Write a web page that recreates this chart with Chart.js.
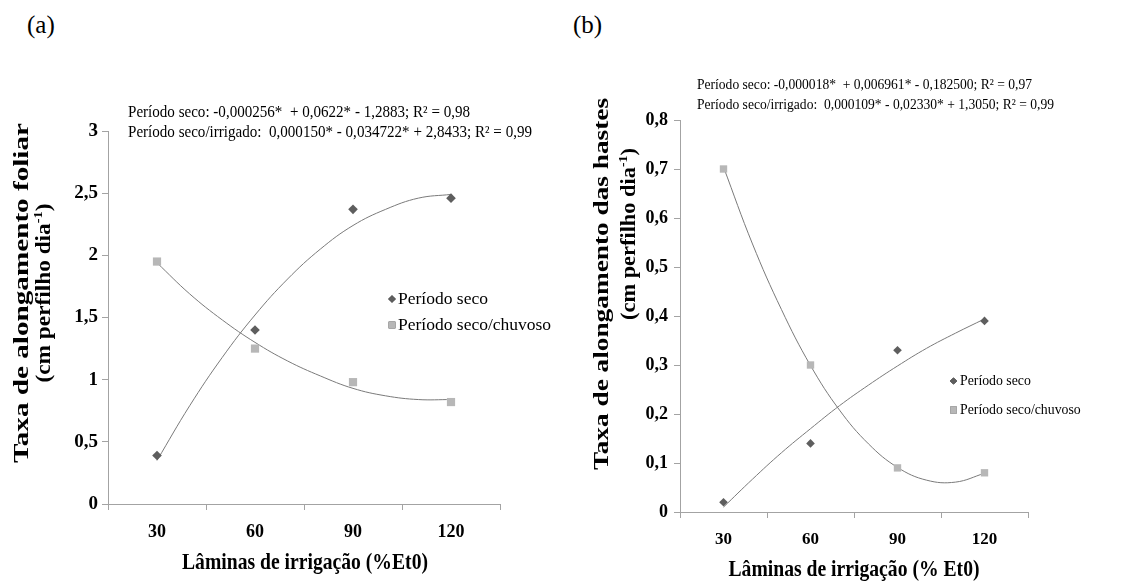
<!DOCTYPE html>
<html lang="pt">
<head>
<meta charset="utf-8">
<title>Taxas de alongamento foliar e das hastes</title>
<script src="https://cdn.jsdelivr.net/npm/chart.js@4.4.1/dist/chart.umd.min.js"></script>
<style>
  html, body { margin: 0; padding: 0; background: #fff; }
  body { width: 1137px; height: 582px; position: relative; overflow: hidden; }
  canvas { position: absolute; top: 0; }
  #chartA { left: 0; }
  #chartB { left: 568px; }
  .tag { position: absolute; top: 11px; font: 25px/1.15 'Liberation Serif', 'Times New Roman', serif; color: #000; }
</style>
</head>
<body>
<span class="tag" style="left:27px">(a)</span>
<span class="tag" style="left:573px">(b)</span>
<canvas id="chartA" width="568" height="582"></canvas>
<canvas id="chartB" width="569" height="582"></canvas>
<script>
// Lâminas de irrigação (% Et0)
const laminas = [30, 60, 90, 120];
// marcas do eixo x entre as lâminas
const xTickMarks = [15, 45, 75, 105, 135];

// (a) taxa de alongamento foliar (cm perfilho dia-1)
const foliarSeco = [0.39, 1.40, 2.37, 2.46];
const foliarChuvoso = [1.95, 1.25, 0.98, 0.82];
const foliarTicks = [0, 0.5, 1, 1.5, 2, 2.5, 3];

// (b) taxa de alongamento das hastes (cm perfilho dia-1)
const hastesSeco = [0.02, 0.14, 0.33, 0.39];
const hastesChuvoso = [0.70, 0.30, 0.09, 0.08];
const hastesTicks = [0, 0.1, 0.2, 0.3, 0.4, 0.5, 0.6, 0.7, 0.8];

// curvas de tendência (2º grau), lidas a cada 10 % Et0
const trendX = [30, 40, 50, 60, 70, 80, 90, 100, 110, 120];
const foliarSecoFit = [0.35, 0.79, 1.18, 1.52, 1.81, 2.05, 2.24, 2.37, 2.46, 2.49];
const foliarChuvosoFit = [1.94, 1.69, 1.48, 1.30, 1.15, 1.03, 0.93, 0.87, 0.84, 0.84];
const hastesSecoFit = [0.010, 0.067, 0.121, 0.170, 0.217, 0.259, 0.298, 0.334, 0.365, 0.394];
const hastesChuvosoFit = [0.704, 0.547, 0.413, 0.299, 0.208, 0.139, 0.091, 0.065, 0.061, 0.079];

const serif = "'Liberation Serif', 'Times New Roman', serif";
const axisGray = '#a3a3a3';
const darkGray = '#5e5e5e';
const lightGray = '#b7b7b7';

function points(xs, ys) { return xs.map((x, i) => ({ x: x, y: ys[i] })); }
function commaLabel(v) { return String(v).replace('.', ','); }

// text in pieces (superscripts), fitted to a given length, centred on (0,0)
function drawRich(ctx, parts, size, bold, len) {
  const w = bold ? 'bold ' : '';
  const fonts = parts.map(p => w + (p.sup ? size * 0.62 : size) + 'px ' + serif);
  let total = 0;
  const widths = parts.map((p, i) => { ctx.font = fonts[i]; const m = ctx.measureText(p.t).width; total += m; return m; });
  ctx.save();
  if (len) ctx.scale(len / total, 1);
  let x = -total / 2;
  parts.forEach((p, i) => {
    ctx.font = fonts[i];
    ctx.fillText(p.t, x, p.sup ? -size * 0.32 : 0);
    x += widths[i];
  });
  ctx.restore();
}

const panelText = {
  id: 'panelText',
  afterDraw(chart, args, o) {
    const ctx = chart.ctx;
    ctx.save();
    ctx.fillStyle = '#000';
    ctx.textBaseline = 'middle';
    ctx.textAlign = 'left';

    // regression equations
    o.equations.forEach(eq => {
      ctx.save();
      ctx.font = o.eqSize + 'px ' + serif;
      const m = ctx.measureText(eq.text).width;
      ctx.translate(eq.x, eq.y);
      ctx.scale(eq.width / m, 1);
      ctx.fillText(eq.text, 0, 0);
      ctx.restore();
    });

    // legend for the two observed series
    const lg = o.legend;
    chart.data.datasets.filter(d => !d.showLine).forEach((d, i) => {
      Chart.helpers.drawPoint(ctx, { pointStyle: d.pointStyle, radius: lg.marker[i], rotation: 0, borderWidth: 0 }, lg.x, lg.y[i]);
      ctx.fillStyle = d.backgroundColor;
      ctx.fill();
      ctx.fillStyle = '#000';
      ctx.font = lg.size + 'px ' + serif;
      ctx.fillText(d.label, lg.textX, lg.y[i]);
    });

    // axis titles
    ctx.save();
    ctx.translate(o.xTitle.x, o.xTitle.y);
    drawRich(ctx, [{ t: o.xTitle.text }], o.xTitle.size, true, o.xTitle.width);
    ctx.restore();

    o.yTitle.forEach(t => {
      ctx.save();
      ctx.translate(t.x, t.y);
      ctx.rotate(-Math.PI / 2);
      drawRich(ctx, t.parts, t.size, true, t.len);
      ctx.restore();
    });
    ctx.restore();
  }
};

function makeChart(id, cfg) {
  return new Chart(document.getElementById(id), {
    type: 'scatter',
    data: {
      datasets: [
        { label: 'Período seco', data: points(laminas, cfg.seco), pointStyle: 'rectRot',
          pointRadius: cfg.diamondR, backgroundColor: darkGray, borderWidth: 0, order: 0 },
        { label: 'Período seco/chuvoso', data: points(laminas, cfg.chuvoso), pointStyle: 'rect',
          pointRadius: cfg.squareR, backgroundColor: lightGray, borderWidth: 0, order: 0 },
        { label: 'Tendência seco', data: points(trendX, cfg.secoFit), showLine: true, pointRadius: 0,
          borderColor: '#7a7a7a', borderWidth: 1, tension: 0.4, order: 1 },
        { label: 'Tendência seco/chuvoso', data: points(trendX, cfg.chuvosoFit), showLine: true, pointRadius: 0,
          borderColor: '#7a7a7a', borderWidth: 1, tension: 0.4, order: 1 }
      ]
    },
    options: {
      responsive: false,
      animation: false,
      events: [],
      layout: { padding: cfg.padding },
      plugins: { legend: { display: false }, tooltip: { enabled: false }, panelText: cfg.text },
      scales: {
        x: {
          type: 'linear', min: 15, max: 135,
          afterBuildTicks: s => { s.ticks = xTickMarks.concat(laminas).sort((a, b) => a - b).map(v => ({ value: v })); },
          afterFit: s => { s.height = 50; },
          ticks: { autoSkip: false, maxRotation: 0, color: '#000', padding: cfg.xPad,
                   font: { family: serif, size: cfg.xSize, weight: 'bold' },
                   callback: v => laminas.includes(v) ? String(v) : '' },
          grid: { drawOnChartArea: false, tickLength: 6,
                  tickColor: c => laminas.includes(c.tick.value) ? 'rgba(0,0,0,0)' : axisGray },
          border: { color: axisGray, width: 1 }
        },
        y: {
          min: 0, max: cfg.yTicks[cfg.yTicks.length - 1],
          afterBuildTicks: s => { s.ticks = cfg.yTicks.map(v => ({ value: v })); },
          afterFit: s => { s.width = 50; },
          ticks: { color: '#000', padding: cfg.yPad, font: { family: serif, size: cfg.ySize, weight: 'bold' },
                   callback: commaLabel },
          grid: { drawOnChartArea: false, tickLength: 6, tickColor: axisGray },
          border: { color: axisGray, width: 1 }
        }
      }
    },
    plugins: [panelText]
  });
}

const supTitle = [{ t: '(cm perfilho dia' }, { t: '-1', sup: true }, { t: ')' }];

makeChart('chartA', {
  seco: foliarSeco, chuvoso: foliarChuvoso, secoFit: foliarSecoFit, chuvosoFit: foliarChuvosoFit,
  yTicks: foliarTicks,
  diamondR: 4.8, squareR: 5.8,
  padding: { left: 58, right: 68, top: 131, bottom: 28 },
  xSize: 18, xPad: 12, ySize: 19, yPad: 4,
  text: {
    eqSize: 16.5,
    equations: [
      { text: 'Período seco: -0,000256*  + 0,0622* - 1,2883; R² = 0,98', x: 128, y: 113, width: 342 },
      { text: 'Período seco/irrigado:  0,000150* - 0,034722* + 2,8433; R² = 0,99', x: 128, y: 133, width: 404 }
    ],
    legend: { x: 392, y: [299, 325], textX: 398, size: 17.5, marker: [3.8, 4.8] },
    xTitle: { text: 'Lâminas de irrigação (%Et0)', x: 305, y: 563, width: 246, size: 23 },
    yTitle: [
      { parts: [{ t: 'Taxa de alongamento foliar' }], x: 23, y: 293, len: 340, size: 21 },
      { parts: supTitle, x: 45, y: 293, len: 179, size: 21 }
    ]
  }
});

makeChart('chartB', {
  seco: hastesSeco, chuvoso: hastesChuvoso, secoFit: hastesSecoFit, chuvosoFit: hastesChuvosoFit,
  yTicks: hastesTicks,
  diamondR: 4.3, squareR: 5.2,
  padding: { left: 62, right: 109, top: 120, bottom: 20 },
  xSize: 17, xPad: 11, ySize: 18, yPad: 6,
  text: {
    eqSize: 15,
    equations: [
      { text: 'Período seco: -0,000018*  + 0,006961* - 0,182500; R² = 0,97', x: 129, y: 85, width: 335 },
      { text: 'Período seco/irrigado:  0,000109* - 0,02330* + 1,3050; R² = 0,99', x: 129, y: 105, width: 357 }
    ],
    legend: { x: 385.5, y: [381, 410], textX: 392, size: 13.8, marker: [3.6, 4.8] },
    xTitle: { text: 'Lâminas de irrigação (% Et0)', x: 286, y: 570, width: 251, size: 23 },
    yTitle: [
      { parts: [{ t: 'Taxa de alongamento das hastes' }], x: 35, y: 284, len: 372, size: 21 },
      { parts: supTitle, x: 62, y: 234, len: 172, size: 21 }
    ]
  }
});
</script>
</body>
</html>
